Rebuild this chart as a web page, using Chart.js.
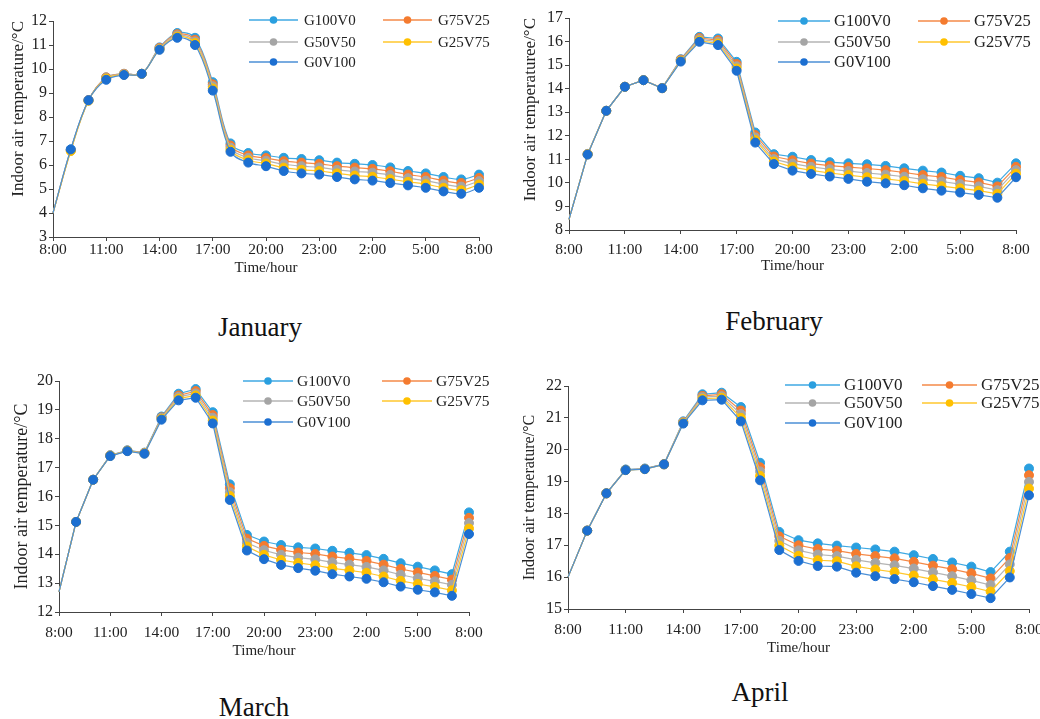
<!DOCTYPE html>
<html>
<head>
<meta charset="utf-8">
<script src="https://cdn.jsdelivr.net/npm/chart.js@4.4.0/dist/chart.umd.min.js"></script>
<style>
  html, body { margin: 0; padding: 0; background: #fff; }
  body { width: 1040px; height: 719px; position: relative; overflow: hidden; }
  canvas { position: absolute; }
  .month { position: absolute; font-family: "Liberation Serif", serif; font-size: 27px; line-height: 27px;
           color: #111; transform: translateX(-50%); white-space: nowrap; }
</style>
</head>
<body>
<canvas id="jan"></canvas>
<canvas id="feb"></canvas>
<canvas id="mar"></canvas>
<canvas id="apr"></canvas>
<div class="month" style="left:260px;top:314px">January</div>
<div class="month" style="left:774px;top:308px">February</div>
<div class="month" style="left:254px;top:694px">March</div>
<div class="month" style="left:760px;top:679px">April</div>
<script>
// hourly time axis, 8:00 to 8:00 next day
var hours = ['8:00','9:00','10:00','11:00','12:00','13:00','14:00','15:00','16:00','17:00','18:00','19:00',
             '20:00','21:00','22:00','23:00','0:00','1:00','2:00','3:00','4:00','5:00','6:00','7:00','8:00']
var seriesNames = ['G100V0','G75V25','G50V50','G25V75','G0V100']

var janG100V0 = [4.0, 6.65, 8.7, 9.65, 9.8, 9.8, 10.9, 11.5, 11.3, 9.45, 6.9, 6.5, 6.4, 6.3, 6.25, 6.2, 6.1, 6.05, 6.0, 5.9, 5.75, 5.65, 5.5, 5.4, 5.6]
var janG75V25 = [4.0, 6.62, 8.7, 9.65, 9.8, 9.8, 10.88, 11.45, 11.22, 9.36, 6.81, 6.4, 6.29, 6.16, 6.1, 6.05, 5.95, 5.89, 5.84, 5.74, 5.6, 5.5, 5.35, 5.25, 5.46]
var janG50V50 = [4.0, 6.6, 8.68, 9.62, 9.78, 9.8, 10.85, 11.4, 11.15, 9.28, 6.72, 6.3, 6.18, 6.03, 5.95, 5.9, 5.8, 5.73, 5.68, 5.58, 5.45, 5.35, 5.2, 5.1, 5.33]
var janG25V75 = [4.0, 6.58, 8.68, 9.6, 9.76, 9.8, 10.82, 11.35, 11.08, 9.19, 6.63, 6.2, 6.06, 5.89, 5.8, 5.75, 5.65, 5.56, 5.51, 5.41, 5.3, 5.2, 5.05, 4.95, 5.19]
var janG0V100 = [4.0, 6.65, 8.7, 9.55, 9.75, 9.8, 10.8, 11.3, 11.0, 9.1, 6.55, 6.1, 5.95, 5.75, 5.65, 5.6, 5.5, 5.4, 5.35, 5.25, 5.15, 5.05, 4.9, 4.8, 5.05]

var febG100V0 = [8.45, 11.23, 13.06, 14.08, 14.36, 14.03, 15.25, 16.2, 16.13, 15.14, 12.14, 11.22, 11.11, 10.97, 10.88, 10.83, 10.79, 10.72, 10.62, 10.52, 10.44, 10.3, 10.2, 10.01, 10.83]
var febG75V25 = [8.45, 11.22, 13.06, 14.08, 14.36, 14.03, 15.23, 16.15, 16.06, 15.05, 12.03, 11.12, 10.96, 10.82, 10.73, 10.67, 10.61, 10.54, 10.44, 10.33, 10.25, 10.12, 10.02, 9.85, 10.68]
var febG50V50 = [8.45, 11.22, 13.06, 14.08, 14.36, 14.02, 15.2, 16.1, 15.99, 14.95, 11.93, 11.01, 10.82, 10.68, 10.58, 10.5, 10.42, 10.35, 10.26, 10.15, 10.06, 9.95, 9.85, 9.69, 10.54]
var febG25V75 = [8.45, 11.21, 13.06, 14.08, 14.36, 14.02, 15.18, 16.04, 15.92, 14.86, 11.82, 10.91, 10.67, 10.53, 10.42, 10.33, 10.24, 10.17, 10.08, 9.96, 9.86, 9.77, 9.67, 9.53, 10.39]
var febG0V100 = [8.45, 11.2, 13.06, 14.08, 14.36, 14.02, 15.15, 15.99, 15.85, 14.76, 11.71, 10.8, 10.52, 10.38, 10.27, 10.17, 10.05, 9.98, 9.9, 9.77, 9.67, 9.59, 9.49, 9.37, 10.24]

var marG100V0 = [12.7, 15.12, 16.58, 17.43, 17.6, 17.52, 18.77, 19.56, 19.72, 18.92, 16.42, 14.67, 14.44, 14.32, 14.24, 14.2, 14.12, 14.05, 13.97, 13.84, 13.69, 13.57, 13.44, 13.31, 15.45]
var marG75V25 = [12.7, 15.12, 16.58, 17.42, 17.59, 17.51, 18.74, 19.5, 19.65, 18.82, 16.29, 14.54, 14.29, 14.15, 14.06, 14.01, 13.92, 13.85, 13.77, 13.64, 13.49, 13.37, 13.25, 13.12, 15.26]
var marG50V50 = [12.7, 15.12, 16.58, 17.42, 17.58, 17.5, 18.72, 19.45, 19.57, 18.73, 16.15, 14.4, 14.14, 13.98, 13.88, 13.82, 13.72, 13.64, 13.56, 13.44, 13.29, 13.17, 13.06, 12.94, 15.08]
var marG25V75 = [12.7, 15.12, 16.58, 17.41, 17.58, 17.49, 18.69, 19.39, 19.5, 18.63, 16.02, 14.27, 13.98, 13.8, 13.7, 13.62, 13.51, 13.44, 13.36, 13.23, 13.08, 12.97, 12.87, 12.75, 14.89]
var marG0V100 = [12.7, 15.12, 16.58, 17.4, 17.57, 17.48, 18.66, 19.33, 19.42, 18.53, 15.88, 14.13, 13.83, 13.63, 13.52, 13.43, 13.31, 13.23, 13.15, 13.03, 12.88, 12.77, 12.68, 12.56, 14.7]

var aprG100V0 = [16.0, 17.46, 18.63, 19.38, 19.41, 19.55, 20.89, 21.74, 21.79, 21.34, 19.59, 17.42, 17.16, 17.06, 16.99, 16.93, 16.87, 16.8, 16.69, 16.57, 16.46, 16.33, 16.16, 16.8, 19.41]
var aprG75V25 = [16.0, 17.46, 18.63, 19.37, 19.4, 19.55, 20.87, 21.69, 21.74, 21.23, 19.45, 17.28, 17.0, 16.88, 16.83, 16.73, 16.66, 16.59, 16.48, 16.36, 16.25, 16.12, 15.96, 16.6, 19.2]
var aprG50V50 = [16.0, 17.46, 18.63, 19.37, 19.4, 19.54, 20.86, 21.65, 21.68, 21.12, 19.32, 17.14, 16.84, 16.71, 16.66, 16.54, 16.45, 16.37, 16.27, 16.15, 16.03, 15.9, 15.75, 16.4, 18.99]
var aprG25V75 = [16.0, 17.46, 18.63, 19.36, 19.39, 19.54, 20.84, 21.6, 21.63, 21.0, 19.18, 16.99, 16.67, 16.53, 16.5, 16.34, 16.24, 16.16, 16.05, 15.93, 15.82, 15.69, 15.55, 16.19, 18.78]
var aprG0V100 = [16.0, 17.46, 18.63, 19.36, 19.39, 19.54, 20.82, 21.55, 21.57, 20.89, 19.04, 16.85, 16.51, 16.35, 16.33, 16.14, 16.03, 15.94, 15.84, 15.72, 15.6, 15.47, 15.34, 15.99, 18.57]

var lineColors  = ['#3fa9e3','#f58a48','#b4b4b4','#ffc72e','#4b8fd6']
var pointColors = ['#2a9fdf','#f47b2f','#a5a5a5','#ffc000','#1c6fd1']
var font = '"Liberation Serif", "Times New Roman", serif'
var textColor = '#222', axisColor = '#444'

// legend drawn inside the plot, two columns like the original
var panelLegend = {
    id: 'panelLegend',
    afterDraw: function(chart, args, o){
        var ctx = chart.ctx
        ctx.save()
        chart.data.datasets.forEach(function(ds, i){
            var x = o.cols[i % 2], y = o.rows[Math.floor(i / 2)]
            ctx.strokeStyle = ds.borderColor
            ctx.lineWidth = 1.5
            ctx.beginPath(); ctx.moveTo(x, y); ctx.lineTo(x + o.len, y); ctx.stroke()
            ctx.fillStyle = ds.pointBackgroundColor
            ctx.beginPath(); ctx.arc(x + o.len / 2, y, 3.8, 0, Math.PI * 2); ctx.fill()
            ctx.fillStyle = textColor
            ctx.font = o.size + 'px ' + font
            ctx.textBaseline = 'middle'
            ctx.fillText(ds.label, x + o.len + o.gap, y + 1)
        })
        ctx.restore()
    }
}

function makePanel(p){
    var canvas = document.getElementById(p.id)
    var yLine = p.yTitleSize * 1.2
    var padLeft = Math.max(0, p.yTitleX - p.left - yLine / 2)
    var yAxisW = p.plot.l - p.left - padLeft
    var xAxisH = p.xTitleY + 9 - p.plot.b
    var h = p.xTitleY + 9 - p.top
    canvas.width = p.width; canvas.height = h
    canvas.style.left = p.left + 'px'; canvas.style.top = p.top + 'px'

    var datasets = p.series.map(function(vals, i){
        return {
            label: seriesNames[i],
            data: vals,
            borderColor: lineColors[i],
            borderWidth: 1.2,
            pointBackgroundColor: pointColors[i],
            pointBorderColor: pointColors[i],
            pointBorderWidth: 1,
            pointRadius: vals.map(function(v, k){ return k === 0 ? 0 : 4.5 }),
            tension: p.tension,
            order: 5 - i
        }
    })

    new Chart(canvas.getContext('2d'), {
        type: 'line',
        data: { labels: hours, datasets: datasets },
        plugins: [panelLegend],
        options: {
            responsive: false,
            animation: false,
            events: [],
            layout: { padding: { left: padLeft, top: p.plot.t - p.top, right: p.left + p.width - p.plot.r, bottom: 0 } },
            plugins: {
                legend: { display: false },
                tooltip: { enabled: false },
                panelLegend: p.legend
            },
            scales: {
                x: {
                    type: 'category',
                    offset: false,
                    grid: { display: true, drawOnChartArea: false, drawTicks: true, tickLength: 4, color: axisColor },
                    border: { display: true, color: axisColor, width: 1 },
                    ticks: {
                        autoSkip: false, maxRotation: 0, minRotation: 0, padding: p.xTickPad,
                        color: textColor, font: { family: font, size: 15.5 },
                        callback: function(v, i){ return i % 3 === 0 ? hours[i] : null }
                    },
                    title: { display: true, text: 'Time/hour', color: textColor, font: { family: font, size: 15 }, padding: 0 },
                    afterFit: function(s){ s.height = xAxisH }
                },
                y: {
                    min: p.yMin, max: p.yMax,
                    grid: { display: true, drawOnChartArea: false, drawTicks: true, tickLength: 4, color: axisColor },
                    border: { display: true, color: axisColor, width: 1 },
                    ticks: { stepSize: 1, padding: 2, color: textColor, font: { family: font, size: 16 } },
                    title: { display: true, text: p.yTitle, align: p.yTitleAlign, color: textColor,
                             font: { family: font, size: p.yTitleSize }, padding: 0 },
                    afterFit: function(s){ s.width = yAxisW }
                }
            }
        }
    })
}

makePanel({ id: 'jan', left: 0, top: 0, width: 520, plot: { l: 53, t: 21, r: 479, b: 237 },
    series: [janG100V0, janG75V25, janG50V50, janG25V75, janG0V100], yMin: 3, yMax: 12, tension: 0.35,
    yTitle: 'Indoor air temperature/°C', yTitleX: 19, yTitleSize: 17, yTitleAlign: 'end', xTitleY: 268, xTickPad: 0,
    legend: { cols: [249, 383], rows: [20, 42, 62], len: 49, gap: 6, size: 15 } })

makePanel({ id: 'feb', left: 520, top: 0, width: 520, plot: { l: 569, t: 18, r: 1016, b: 230 },
    series: [febG100V0, febG75V25, febG50V50, febG25V75, febG0V100], yMin: 8, yMax: 17, tension: 0,
    yTitle: 'Indoor air temperaturee/°C', yTitleX: 530, yTitleSize: 17, yTitleAlign: 'end', xTitleY: 266, xTickPad: 7,
    legend: { cols: [258, 398], rows: [21, 42, 62], len: 52, gap: 4, size: 16.5 } })

makePanel({ id: 'mar', left: 0, top: 360, width: 520, plot: { l: 59, t: 381, r: 469, b: 612 },
    series: [marG100V0, marG75V25, marG50V50, marG25V75, marG0V100], yMin: 12, yMax: 20, tension: 0,
    yTitle: 'Indoor air temperature/°C', yTitleX: 22, yTitleSize: 18, yTitleAlign: 'center', xTitleY: 651, xTickPad: 8,
    legend: { cols: [243, 382], rows: [21, 41, 62], len: 50, gap: 4, size: 15.5 } })

makePanel({ id: 'apr', left: 520, top: 360, width: 540, plot: { l: 568, t: 386, r: 1029, b: 609 },
    series: [aprG100V0, aprG75V25, aprG50V50, aprG25V75, aprG0V100], yMin: 15, yMax: 22, tension: 0,
    yTitle: 'Indoor air temperature/°C', yTitleX: 529, yTitleSize: 16, yTitleAlign: 'center', xTitleY: 648, xTickPad: 8,
    legend: { cols: [265, 402], rows: [25, 43, 63], len: 55, gap: 4, size: 17 } })
</script>
</body>
</html>
